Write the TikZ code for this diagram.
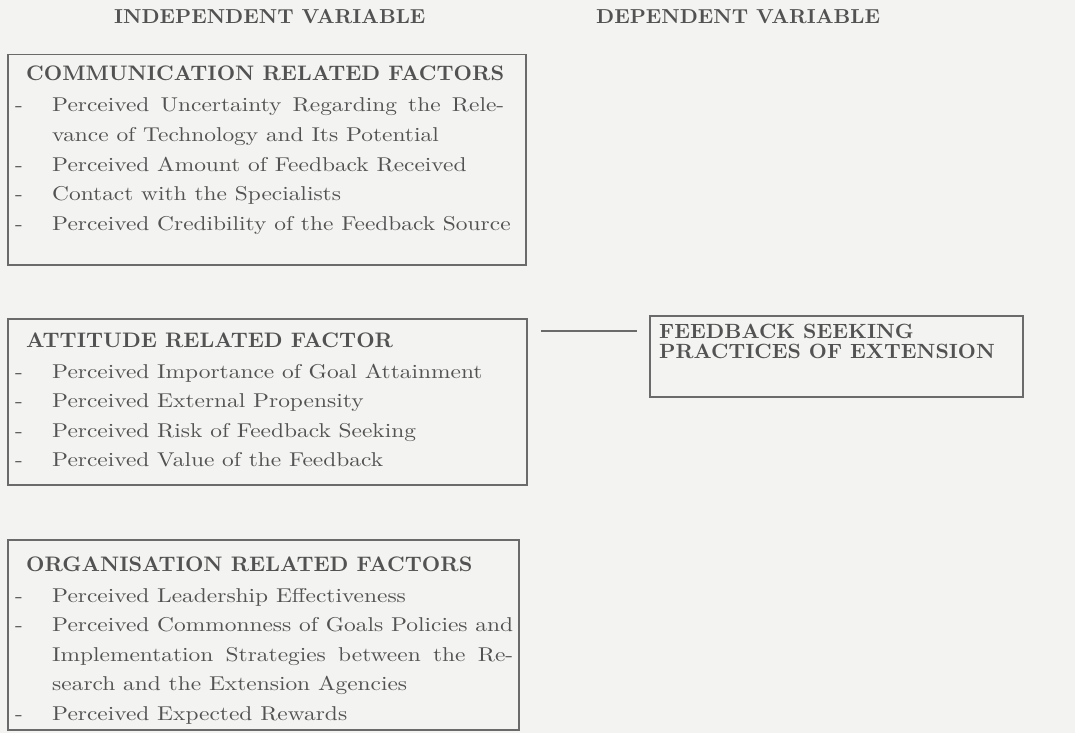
\documentclass[tikz,border=0pt]{standalone}
\usepackage{fontspec}
\newfontfamily\bodyfont{lmroman10-regular.otf}[FakeStretch=1.17]
\newfontfamily\boldfont{lmroman10-bold.otf}[FakeStretch=1.015]
\definecolor{paper}{HTML}{F3F3F1}
\definecolor{ink}{HTML}{525252}
\definecolor{rule}{HTML}{6A6A6A}
\newcommand{\bodysize}{\bodyfont\fontsize{20}{24}\selectfont}
\newcommand{\headsize}{\boldfont\fontsize{21}{25}\selectfont}
\newcommand{\varsize}{\boldfont\fontsize{20.2}{24}\selectfont}
\newcommand{\dvsize}{\boldfont\fontsize{20.6}{24}\selectfont}
\tikzset{
  factorbox/.style={draw=rule, line width=1.5pt, anchor=north west, inner sep=0pt},
  heading/.style={anchor=base west, inner sep=0pt, text=ink, font=\headsize},
  item/.style={anchor=base west, inner sep=0pt, text=ink, font=\bodysize},
  bullet/.style={anchor=base west, inner sep=0pt, text=ink, font=\bodysize},
  vartitle/.style={anchor=base west, inner sep=0pt, text=ink, font=\varsize},
  dvtext/.style={anchor=base west, inner sep=0pt, text=ink, font=\dvsize},
  link/.style={draw=rule, line width=1.3pt}
}
\newcommand{\jline}[2]{\makebox[#1pt][s]{#2}}
\begin{document}
\begin{tikzpicture}[x=1pt, y=-1pt]
  \useasboundingbox (0,0) rectangle (1075,733);
  \fill[paper] (0,0) rectangle (1075,733);

  % column titles
  \node[vartitle] (indep) at (114,23.5) {INDEPENDENT VARIABLE};
  \node[vartitle] (dep) at (596,23.5) {DEPENDENT VARIABLE};

  % communication related factors
  \node[factorbox, minimum width=518pt, minimum height=210pt] (comm) at (7,54) {};
  \node[heading] (commh) at (26,81) {COMMUNICATION RELATED FACTORS};
  \node[bullet] (c1d) at (15,112) {-};
  \node[item] (c1) at (52,112) {\jline{452}{Perceived Uncertainty Regarding the Rele-}};
  \node[item] (c1b) at (52,141.5) {vance of Technology and Its Potential};
  \node[bullet] (c2d) at (15,171) {-};
  \node[item] (c2) at (52,171) {Perceived Amount of Feedback Received};
  \node[bullet] (c3d) at (15,200.5) {-};
  \node[item] (c3) at (52,200.5) {Contact with the Specialists};
  \node[bullet] (c4d) at (15,230) {-};
  \node[item] (c4) at (52,230) {Perceived Credibility of the Feedback Source};

  % attitude related factor
  \node[factorbox, minimum width=519pt, minimum height=166pt] (att) at (7,318) {};
  \node[heading] (atth) at (26,347) {ATTITUDE RELATED FACTOR};
  \node[bullet] (a1d) at (15,378) {-};
  \node[item] (a1) at (52,378) {Perceived Importance of Goal Attainment};
  \node[bullet] (a2d) at (15,407.5) {-};
  \node[item] (a2) at (52,407.5) {Perceived External Propensity};
  \node[bullet] (a3d) at (15,437) {-};
  \node[item] (a3) at (52,437) {Perceived Risk of Feedback Seeking};
  \node[bullet] (a4d) at (15,466.5) {-};
  \node[item] (a4) at (52,466.5) {Perceived Value of the Feedback};

  % organisation related factors
  \node[factorbox, minimum width=511pt, minimum height=190pt] (org) at (7,539) {};
  \node[heading] (orgh) at (26,571) {ORGANISATION RELATED FACTORS};
  \node[bullet] (o1d) at (15,602) {-};
  \node[item] (o1) at (52,602) {Perceived Leadership Effectiveness};
  \node[bullet] (o2d) at (15,631.5) {-};
  \node[item] (o2) at (52,631.5) {\jline{461}{Perceived Commonness of Goals Policies and}};
  \node[item] (o2b) at (52,661) {\jline{461}{Implementation Strategies between the Re-}};
  \node[item] (o2c) at (52,690.5) {search and the Extension Agencies};
  \node[bullet] (o3d) at (15,720) {-};
  \node[item] (o3) at (52,720) {Perceived Expected Rewards};

  % dependent variable
  \node[factorbox, minimum width=373pt, minimum height=81pt] (fb) at (649,315) {};
  \node[dvtext] (fb1) at (659,338) {FEEDBACK SEEKING};
  \node[dvtext] (fb2) at (659,358.5) {PRACTICES OF EXTENSION};

  % link between the two columns
  \coordinate (linkA) at (541,331);
  \coordinate (linkB) at (637,331);
  \draw[link] (linkA) -- (linkB);
\end{tikzpicture}
\end{document}
